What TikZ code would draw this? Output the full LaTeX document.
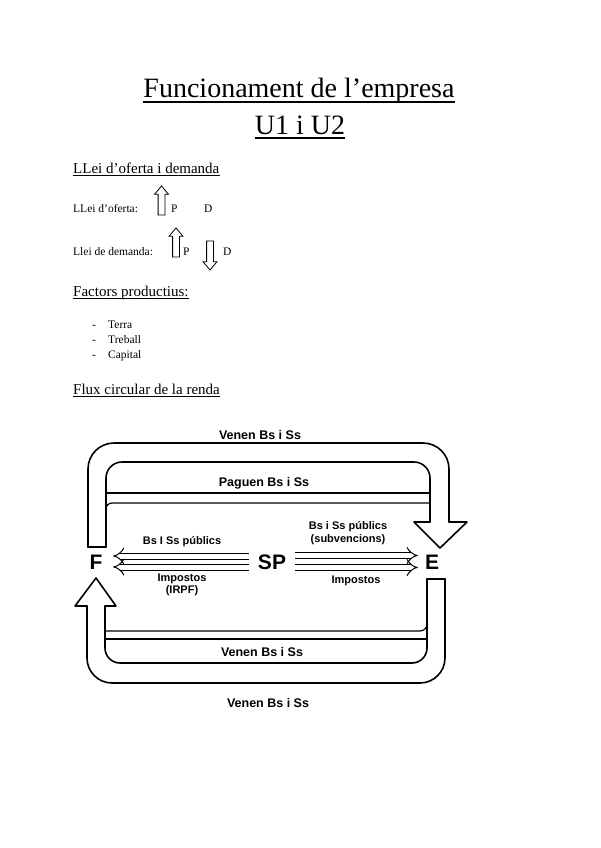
\documentclass[tikz,border=0pt]{standalone}
\usepackage{fontspec}
\setmainfont{Liberation Serif}
\setsansfont{Liberation Sans}
\usetikzlibrary{arrows.meta,shapes.arrows}

\begin{document}
\begin{tikzpicture}[
    x=1pt, y=-1pt,
    titol/.style={inner sep=0pt, anchor=base, font=\fontsize{28}{30}\selectfont},
    apartat/.style={inner sep=0pt, anchor=base west, font=\fontsize{15}{17}\selectfont},
    nota/.style={inner sep=0pt, anchor=base west, font=\fontsize{11.5}{13}\selectfont},
    uline/.style={line width=0.8pt},
    upbox/.style={single arrow, draw, line width=0.8pt, rotate=90, minimum height=29pt, inner xsep=0pt, inner ysep=3pt, single arrow head extend=3.5pt, single arrow tip angle=80},
    downbox/.style={upbox, rotate=180},
    agent/.style={inner sep=0pt, font=\sffamily\bfseries\fontsize{21}{22}\selectfont},
    flow/.style={inner sep=0pt, font=\sffamily\bfseries\fontsize{12.5}{14}\selectfont},
    lbl/.style={inner sep=0pt, align=center, font=\sffamily\bfseries\fontsize{11}{12.5}\selectfont},
    band/.style={line width=1.6pt, line join=round, line cap=round},
    bandline/.style={line width=1.2pt},
    dbl/.style={double, double distance=5pt, line width=1pt, -{Implies[length=5pt]}}
]
  \path[use as bounding box, fill=white] (0,0) rectangle (600,848);

  % Titol
  \node[titol] (tit) at (299,98) {Funcionament de l’empresa};
  \node[titol] (unit) at (300,135) {U1 i U2};
  \draw[uline, line width=1.3pt] ([yshift=-4pt]tit.base west) -- ([yshift=-4pt]tit.base east);
  \draw[uline, line width=1.3pt] ([yshift=-3pt]unit.base west) -- ([yshift=-3pt]unit.base east);

  % Llei d'oferta i demanda
  \node[apartat] (llei) at (73,173) {LLei d’oferta i demanda};
  \draw[uline] ([yshift=-2.5pt]llei.base west) -- ([yshift=-2.5pt]llei.base east);
  \node[nota] (lof) at (73,212) {LLei d’oferta:};
  \node[upbox] (ofp) at (161.5,202.5) {};
  \node[nota] (pof) at (171,212) {P};
  \node[nota] (dof) at (204,212) {D};
  \node[nota] (ldem) at (73,255) {Llei de demanda:};
  \node[upbox] (demp) at (176,244.5) {};
  \node[nota] (pdem) at (183,255) {P};
  \node[downbox] (demd) at (210,253.5) {};
  \node[nota] (ddem) at (223,255) {D};

  % Factors productius
  \node[apartat] (fact) at (73,296) {Factors productius:};
  \draw[uline] ([yshift=-2.5pt]fact.base west) -- ([yshift=-2.5pt]fact.base east);
  \foreach \y/\t [count=\i] in {328/Terra, 343/Treball, 358/Capital} {
    \node[nota] (g\i) at (92,\y) {-};
    \node[nota] (f\i) at (108,\y) {\t};
  }

  % Flux circular
  \node[apartat] (flux) at (73,394) {Flux circular de la renda};
  \draw[uline] ([yshift=-2.5pt]flux.base west) -- ([yshift=-2.5pt]flux.base east);

  \node[agent] (F) at (96,562) {F};
  \node[agent] (SP) at (272,562) {SP};
  \node[agent] (E) at (432,562) {E};

  % fletxa de dalt
  \draw[band, rounded corners=26pt] (88,547) -- (88,443) -- (449,443) -- (449,522);
  \draw[band] (449,522) -- (467,522) -- (440,548) -- (414,522) -- (430,522);
  \draw[band, rounded corners=16pt] (430,522) -- (430,462) -- (106,462) -- (106,547);
  \draw[band] (106,547) -- (88,547);
  \draw[bandline] (106,493) -- (430,493);
  \draw[bandline, rounded corners=6pt] (430,503) -- (106,503) -- (106,512);

  % fletxa de baix
  \draw[band, rounded corners=25pt] (87,606) -- (87,683) -- (445,683) -- (445,579);
  \draw[band] (445,579) -- (427,579);
  \draw[band, rounded corners=15pt] (427,579) -- (427,663) -- (105,663) -- (105,606);
  \draw[band] (105,606) -- (116,606) -- (96,578) -- (75,606) -- (87,606);
  \draw[bandline, rounded corners=7pt] (105,631) -- (427,631) -- (427,622);
  \draw[bandline] (105,639) -- (427,639);

  \node[flow] (venen1) at (260,435) {Venen Bs i Ss};
  \node[flow] (paguen) at (264,483) {Paguen Bs i Ss};
  \node[flow] (venen2) at (262,652) {Venen Bs i Ss};
  \node[flow] (venen3) at (268,703) {Venen Bs i Ss};

  % sector public
  \draw[dbl, shorten <=9pt, shorten >=10.5pt] ([yshift=6pt]SP.west) -- ([yshift=6pt]F.east);
  \draw[dbl, shorten <=9pt, shorten >=10.5pt] ([yshift=-5pt]SP.west) -- ([yshift=-5pt]F.east);
  \draw[dbl, shorten <=9pt, shorten >=7pt] ([yshift=6.5pt]SP.east) -- ([yshift=6.5pt]E.west);
  \draw[dbl, shorten <=9pt, shorten >=7pt] ([yshift=-5.5pt]SP.east) -- ([yshift=-5.5pt]E.west);
  \node[lbl] (bsf) at (182,542) {Bs I Ss públics};
  \node[lbl] (impf) at (182,585) {Impostos\\(IRPF)};
  \node[lbl] (bse) at (348,533) {Bs i Ss públics\\(subvencions)};
  \node[lbl] (impe) at (356,581) {Impostos};
\end{tikzpicture}
\end{document}
